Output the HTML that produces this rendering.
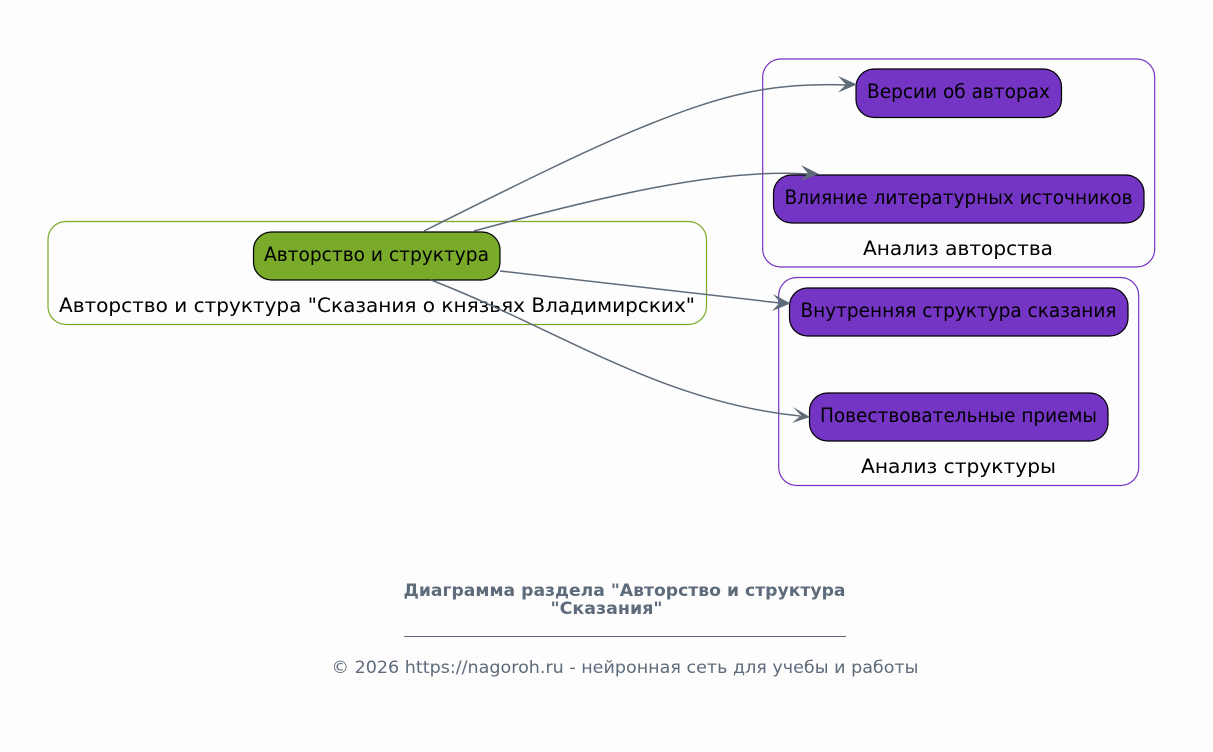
<!DOCTYPE html>
<html>
<head>
<meta charset="utf-8">
<style>
html,body{margin:0;padding:0;background:#fdfdfd;width:1213px;height:752px;overflow:hidden}
svg{display:block}
text{font-family:"DejaVu Sans",sans-serif;}
.n{font-size:19.2px;fill:#000;text-anchor:middle}
.c{fill:#fdfdfd;stroke-width:1.2}
.b{stroke:#000;stroke-width:1.2}
.e{fill:none;stroke:#5f6b78;stroke-width:1.5}
.a{fill:#5f6b78;stroke:none}
.f{fill:#5d6b7a;text-anchor:middle}
</style>
</head>
<body>
<svg width="1213" height="752" viewBox="0 0 1213 752" xmlns="http://www.w3.org/2000/svg">
<rect x="0" y="0" width="1213" height="752" fill="#fdfdfd"/>

<rect class="c" x="48" y="221.5" width="658.5" height="103" rx="18" stroke="#7aaa2a"/>
<rect class="c" x="762.7" y="59" width="392" height="208" rx="18" stroke="#7434c4"/>
<rect class="c" x="778.7" y="277.5" width="360" height="208" rx="18" stroke="#7434c4"/>

<text class="n" x="377" y="312" textLength="636" lengthAdjust="spacingAndGlyphs">Авторство и структура "Сказания о князьях Владимирских"</text>
<text class="n" x="958" y="255" textLength="190" lengthAdjust="spacingAndGlyphs">Анализ авторства</text>
<text class="n" x="958.5" y="473" textLength="195" lengthAdjust="spacingAndGlyphs">Анализ структуры</text>

<rect class="b" x="253.5" y="232" width="246.5" height="48" rx="18" fill="#7aaa2a"/>
<rect class="b" x="856" y="69" width="205.5" height="48.5" rx="18" fill="#7434c4"/>
<rect class="b" x="773.5" y="175" width="370.5" height="48" rx="18" fill="#7434c4"/>
<rect class="b" x="789.5" y="288" width="338.5" height="48" rx="18" fill="#7434c4"/>
<rect class="b" x="809.5" y="393" width="298.5" height="48" rx="18" fill="#7434c4"/>

<text class="n" x="376.5" y="261" textLength="225" lengthAdjust="spacingAndGlyphs">Авторство и структура</text>
<text class="n" x="958.5" y="98" textLength="183" lengthAdjust="spacingAndGlyphs">Версии об авторах</text>
<text class="n" x="958.5" y="204" textLength="348" lengthAdjust="spacingAndGlyphs">Влияние литературных источников</text>
<text class="n" x="958.5" y="317" textLength="316" lengthAdjust="spacingAndGlyphs">Внутренняя структура сказания</text>
<text class="n" x="958.5" y="422" textLength="277" lengthAdjust="spacingAndGlyphs">Повествовательные приемы</text>

<path class="e" d="M424,231 C510,188 590,148 650,124 C720,96 770,82 846,85"/>
<path class="a" d="M857,84.5 L838,76 L846,84.5 L838,92.5 Z"/>
<path class="e" d="M474,231 C600,197 720,168 808,174"/>
<path class="a" d="M819,174 L801,165 L808,173.5 L800,181 Z"/>
<path class="e" d="M500,271 C600,282 700,293 780,303"/>
<path class="a" d="M790.5,303.5 L773,294 L780,302.5 L772,311 Z"/>
<path class="e" d="M431,280 C560,330 660,402 800,416"/>
<path class="a" d="M810,417 L793,407 L801,415.5 L792,423 Z"/>

<text class="f" x="624.5" y="596" font-size="16.5" font-weight="bold" textLength="442" lengthAdjust="spacingAndGlyphs">Диаграмма раздела "Авторство и структура</text>
<text class="f" x="606.5" y="614" font-size="16.5" font-weight="bold" textLength="112" lengthAdjust="spacingAndGlyphs">"Сказания"</text>
<rect x="404" y="636" width="442" height="1" fill="#5d6b7a"/>
<text class="f" x="625" y="673" font-size="16.5" textLength="587" lengthAdjust="spacingAndGlyphs">© 2026 https://nagoroh.ru - нейронная сеть для учебы и работы</text>
</svg>
</body>
</html>
